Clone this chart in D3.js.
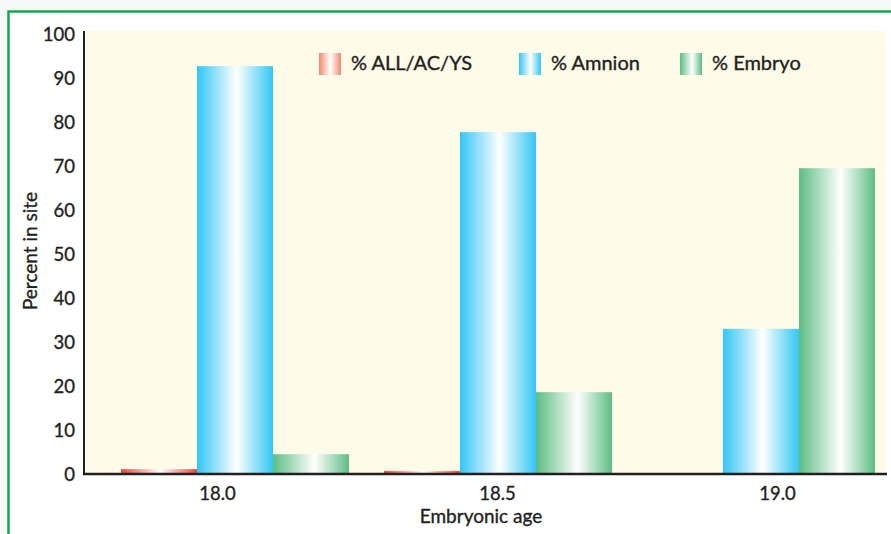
<!DOCTYPE html>
<html>
<head>
<meta charset="utf-8">
<script src="https://cdn.jsdelivr.net/npm/d3@7/dist/d3.min.js"></script>
<style>
  html, body { margin: 0; padding: 0; background: #f5f9f7; }
  svg { display: block; }
  text { font-family: Lato, "Open Sans", sans-serif; fill: #231f20; stroke: #231f20; stroke-width: 0.35px; }
</style>
</head>
<body>
<svg id="chart" width="891" height="534"></svg>
<script>
// ---- data ----
const categories = ["18.0", "18.5", "19.0"];
const seriesNames = ["% ALL/AC/YS", "% Amnion", "% Embryo"];
const allAcYs = [1.1, 0.7, 0];
const amnion = [92.7, 77.7, 33.0];
const embryo = [4.5, 18.6, 69.5];
const yTicks = [0, 10, 20, 30, 40, 50, 60, 70, 80, 90, 100];
const xTitle = "Embryonic age";
const yTitle = "Percent in site";

const seriesValues = [allAcYs, amnion, embryo];
const seriesColors = [
  { bar: "#e8473a", legend: "#f08a6a" },
  { bar: "#33c6f4", legend: "#33c6f4" },
  { bar: "#5cbd84", legend: "#5cbd84" }
];

const svg = d3.select("#chart");

// frame
svg.append("rect")
  .attr("x", 8.5).attr("y", 11.5)
  .attr("width", 900).attr("height", 540)
  .attr("fill", "#ffffff")
  .attr("stroke", "#17a84f").attr("stroke-width", 2.5);

// plot geometry
const plot = { left: 84, right: 886, top: 31, bottom: 474 };

const y = d3.scaleLinear().domain([0, 100]).range([474, 34]);

// group positions for bars
const groupX = d3.scaleLinear().domain([0, 2]).range([121, 647]);
const inner = d3.scaleBand().domain(d3.range(seriesNames.length)).range([0, 228]).padding(0);
// tick label positions
const tickX = d3.scalePoint().domain(categories).range([217, 777]);

// gradients
const defs = svg.append("defs");
function addGrad(id, color, mid) {
  const g = defs.append("linearGradient").attr("id", id)
    .attr("x1", "0%").attr("x2", "100%").attr("y1", "0%").attr("y2", "0%");
  g.append("stop").attr("offset", "0%").attr("stop-color", color);
  g.append("stop").attr("offset", mid).attr("stop-color", "#ffffff");
  g.append("stop").attr("offset", "100%").attr("stop-color", color);
}
seriesColors.forEach((c, i) => {
  addGrad("bar" + i, c.bar, i === 2 ? "55%" : "52%");
  addGrad("leg" + i, c.legend, i === 2 ? "55%" : "52%");
});

// plot background
svg.append("rect")
  .attr("x", plot.left).attr("y", plot.top)
  .attr("width", plot.right - plot.left).attr("height", plot.bottom - plot.top)
  .attr("fill", "#fffbe9");

// bars
categories.forEach((cat, gi) => {
  seriesValues.forEach((vals, si) => {
    const v = vals[gi];
    if (v <= 0) return;
    svg.append("rect")
      .attr("x", groupX(gi) + inner(si))
      .attr("width", inner.bandwidth())
      .attr("y", y(v))
      .attr("height", y(0) - y(v))
      .attr("fill", `url(#bar${si})`);
  });
});

// y axis
const yAxis = d3.axisLeft(y).tickValues(yTicks).tickSize(0).tickPadding(9);
const yg = svg.append("g").attr("transform", `translate(${plot.left},0)`).call(yAxis);
yg.select(".domain").remove();
yg.selectAll("text")
  .style("font-family", "Lato, sans-serif")
  .style("font-size", "18.5px")
  .attr("fill", "#231f20")
  .attr("dy", "0.36em");
svg.append("line")
  .attr("x1", plot.left).attr("x2", plot.left)
  .attr("y1", plot.top).attr("y2", plot.bottom + 1)
  .attr("stroke", "#231f20").attr("stroke-width", 2);

// x axis
const xAxis = d3.axisBottom(tickX).tickSize(0).tickPadding(13);
const xg = svg.append("g").attr("transform", `translate(0,${plot.bottom})`).call(xAxis);
xg.select(".domain").remove();
xg.selectAll("text")
  .style("font-family", "Lato, sans-serif")
  .style("font-size", "18.5px")
  .attr("fill", "#231f20");
svg.append("line")
  .attr("x1", plot.left - 1).attr("x2", plot.right + 1)
  .attr("y1", plot.bottom).attr("y2", plot.bottom)
  .attr("stroke", "#231f20").attr("stroke-width", 2.5);

// axis titles
svg.append("text")
  .attr("x", 481).attr("y", 523)
  .attr("text-anchor", "middle")
  .style("font-size", "19px")
  .text(xTitle);
svg.append("text")
  .attr("transform", "translate(37,251) rotate(-90)")
  .attr("text-anchor", "middle")
  .style("font-size", "19px")
  .text(yTitle);

// legend
const legendX = [319, 519, 680];
seriesNames.forEach((name, i) => {
  svg.append("rect")
    .attr("x", legendX[i]).attr("y", 53)
    .attr("width", 22).attr("height", 22)
    .attr("fill", `url(#leg${i})`);
  svg.append("text")
    .attr("x", legendX[i] + 32).attr("y", 70)
    .style("font-size", "20px")
    .text(name);
});
</script>
</body>
</html>
